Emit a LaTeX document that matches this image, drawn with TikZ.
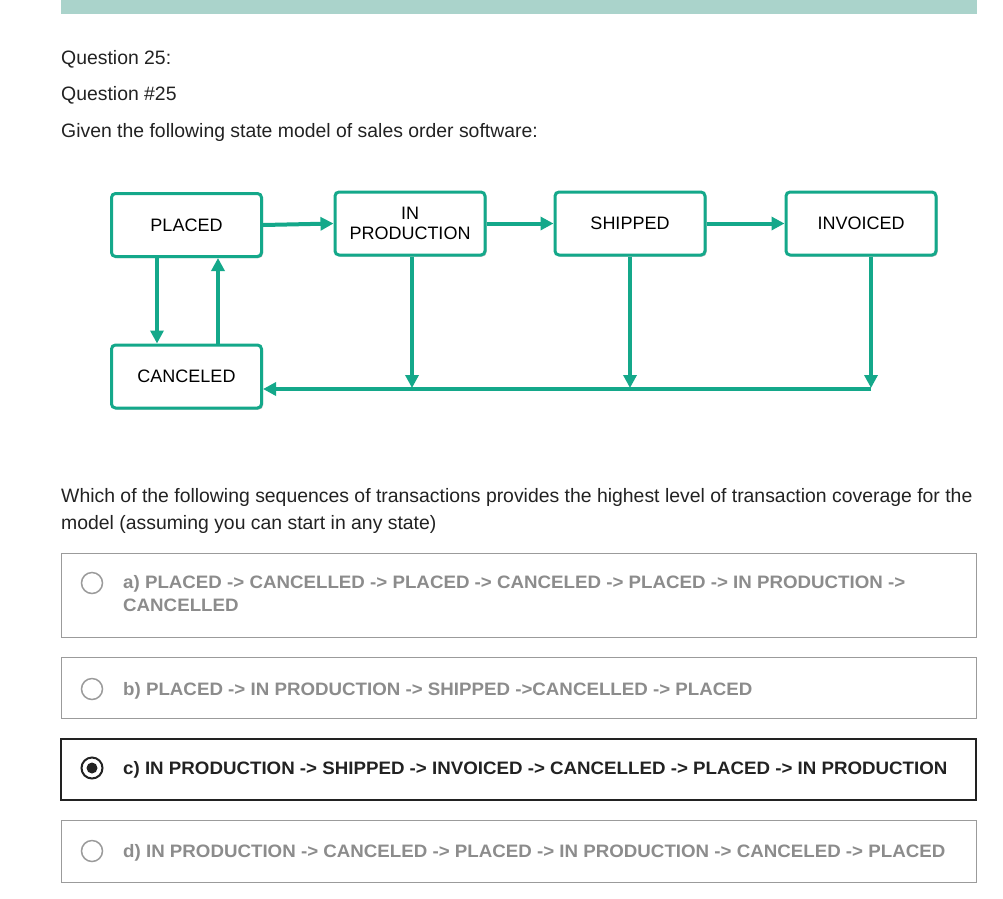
\documentclass[tikz,border=0pt]{standalone}
\usepackage{fontspec}
\setmainfont{Liberation Sans}
\newfontfamily\optfont[FakeStretch=1.04]{Liberation Sans}
\usetikzlibrary{arrows.meta,shadows}
\definecolor{teal1}{RGB}{20,168,138}
\definecolor{barcol}{RGB}{170,211,203}
\definecolor{txt}{RGB}{34,34,34}
\definecolor{graytxt}{RGB}{140,140,140}
\definecolor{grayline}{RGB}{155,155,155}
\begin{document}
\begin{tikzpicture}[x=1pt,y=-1pt,
  state/.style={draw=teal1, line width=3pt, rounded corners=4pt, fill=white,
    minimum width=150pt, minimum height=63pt, inner sep=0pt, align=center,
    font=\fontsize{18}{20.5}\selectfont, text=black,
    drop shadow={shadow xshift=1.5pt, shadow yshift=-1.5pt, opacity=0.25, fill=black}},
  arr/.style={draw=teal1, line width=4pt, -{Triangle[length=13pt,width=13pt]}},
  plain/.style={anchor=base west, inner sep=0pt, text=txt, font=\fontsize{19.4}{22}\selectfont},
  opttxt/.style={anchor=base west, inner sep=0pt, font=\optfont\bfseries\fontsize{18}{20}\selectfont},
  optbox/.style={draw=grayline, line width=1pt},
  radio/.style={circle, draw=grayline, line width=1.5pt, minimum size=21pt, inner sep=0pt}
]
\useasboundingbox (0,0) rectangle (1003,898);
\fill[white] (0,0) rectangle (1003,898);
% top bar
\fill[barcol] (61,0) rectangle (977,14);

% header texts
\node[plain] (q1) at (61,64) {Question 25:};
\node[plain] (q2) at (61,100) {Question \#25};
\node[plain] (q3) at (61,137) {Given the following state model of sales order software:};

% state diagram
\node[state] (placed)   at (186.5,225)   {PLACED};
\node[state] (inprod)   at (410,223.5)   {IN\\PRODUCTION};
\node[state] (shipped)  at (630,223.5)   {SHIPPED};
\node[state] (invoiced) at (861,223.5)   {INVOICED};
\node[state] (canceled) at (186.5,376.5) {CANCELED};

\coordinate (j1) at (412,389);
\coordinate (j2) at (630,389);
\coordinate (j3) at (871,389);

\draw[arr] (placed.east) -- (inprod.west);
\draw[arr] (inprod.east) -- (shipped.west);
\draw[arr] (shipped.east) -- (invoiced.west);
\draw[arr] ([xshift=-29.5pt]placed.south) -- ([xshift=-29.5pt]canceled.north);
\draw[arr] ([xshift=31.5pt]canceled.north) -- ([xshift=31.5pt]placed.south);
\draw[arr] (inprod.south -| j1) -- ([yshift=1pt]j1);
\draw[arr] (shipped.south -| j2) -- ([yshift=1pt]j2);
\draw[arr] (invoiced.south -| j3) -- ([yshift=1pt]j3);
\draw[arr] (j3) -- (j3 -| canceled.east);

% question
\node[plain] (w1) at (61,502) {Which of the following sequences of transactions provides the highest level of transaction coverage for the};
\node[plain] (w2) at (61,529) {model (assuming you can start in any state)};

% options
\draw[optbox] (61,553) rectangle (976,637);
\draw[optbox] (61,657) rectangle (976,718);
\draw[draw=txt, line width=1.3pt] (61,739) rectangle (976,800);
\draw[optbox] (61,820) rectangle (976,882);

\node[radio] (ra) at (92,583) {};
\node[radio] (rb) at (92,689) {};
\node[radio, draw=txt, line width=2pt] (rc) at (92,768) {};
\fill[txt] (rc.center) circle (5.5pt);
\node[radio] (rd) at (92,851) {};

\node[opttxt, text=graytxt] (ta1) at (123,588) {a) PLACED -> CANCELLED -> PLACED -> CANCELED -> PLACED -> IN PRODUCTION ->};
\node[opttxt, text=graytxt] (ta2) at (123,611) {CANCELLED};
\node[opttxt, text=graytxt] (tb) at (123,695) {b) PLACED -> IN PRODUCTION -> SHIPPED ->CANCELLED -> PLACED};
\node[opttxt, text=txt] (tc) at (123,774) {c) IN PRODUCTION -> SHIPPED -> INVOICED -> CANCELLED -> PLACED -> IN PRODUCTION};
\node[opttxt, text=graytxt] (td) at (123,857) {d) IN PRODUCTION -> CANCELED -> PLACED -> IN PRODUCTION -> CANCELED -> PLACED};
\end{tikzpicture}
\end{document}
